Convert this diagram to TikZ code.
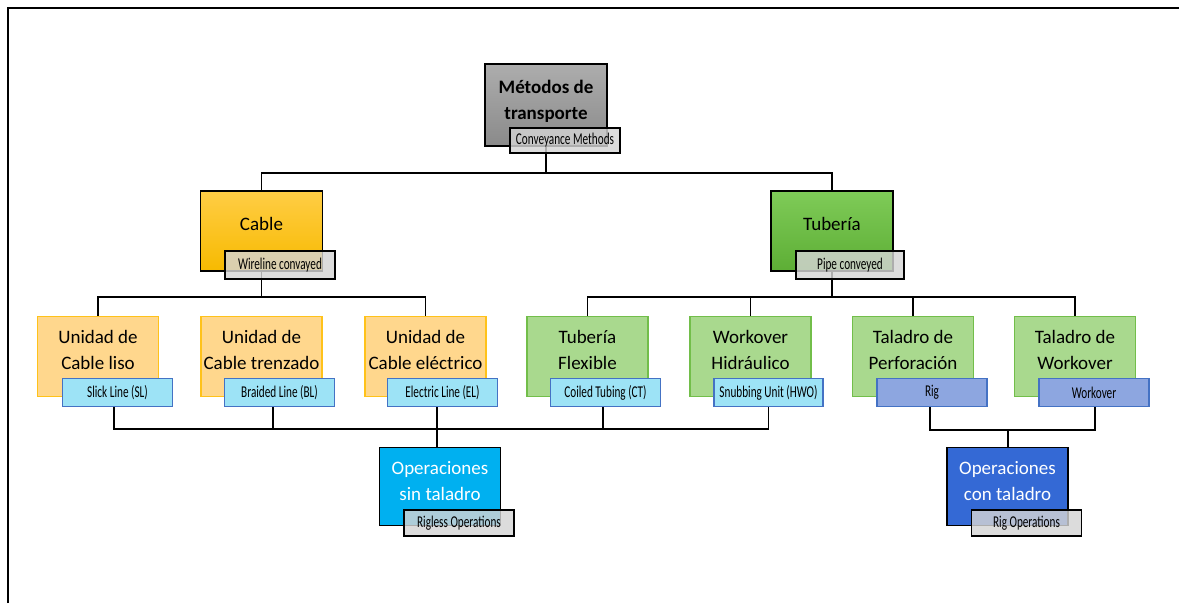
\documentclass[tikz,border=0pt]{standalone}
\usepackage{fontspec}
\setmainfont{Carlito}
\newfontfamily\condfont[FakeStretch=0.68]{Carlito}

\definecolor{grayTop}{HTML}{ADADAD}
\definecolor{grayBot}{HTML}{8A8A8A}
\definecolor{tagGray}{HTML}{D4D4D4}
\definecolor{goldTop}{HTML}{FFCD45}
\definecolor{goldBot}{HTML}{F7BA00}
\definecolor{greenTop}{HTML}{7FCB58}
\definecolor{greenBot}{HTML}{5DAE35}
\definecolor{orangeFill}{HTML}{FFD78D}
\definecolor{orangeLine}{HTML}{FFC21A}
\definecolor{greenFill}{HTML}{A9D98E}
\definecolor{greenLine}{HTML}{72BE4A}
\definecolor{cyanFill}{HTML}{9DE3F6}
\definecolor{blueLine}{HTML}{4472C4}
\definecolor{rigFill}{HTML}{8DA6E0}
\definecolor{skyFill}{HTML}{00B0F0}
\definecolor{royalFill}{HTML}{3469D5}

\tikzset{
  link/.style={draw=black, line width=1.5pt},
  topbox/.style={draw=black, line width=1.3pt, minimum width=122pt, minimum height=82pt,
    top color=grayTop, bottom color=grayBot, inner sep=0pt},
  goldbox/.style={draw=black, line width=1.3pt, minimum width=122pt, minimum height=80pt,
    top color=goldTop, bottom color=goldBot, inner sep=0pt},
  greenbox/.style={draw=black, line width=1.3pt, minimum width=122pt, minimum height=80pt,
    top color=greenTop, bottom color=greenBot, inner sep=0pt},
  unitbox/.style={line width=1.6pt, minimum width=121pt, minimum height=80pt, inner sep=0pt},
  cableunit/.style={unitbox, draw=orangeLine, fill=orangeFill},
  pipeunit/.style={unitbox, draw=greenLine, fill=greenFill},
  opsbox/.style={draw=black, line width=1.4pt, minimum width=121pt, minimum height=78pt, inner sep=0pt},
  title/.style={font=\fontsize{19}{26}\selectfont, align=center, inner sep=0pt},
  tag/.style={line width=1.5pt, minimum height=28pt, inner sep=0pt,
    font=\condfont\fontsize{16.5}{16.5}\selectfont},
  graytag/.style={tag, draw=black, fill=tagGray, fill opacity=0.82, text opacity=1, minimum width=110pt},
  cyantag/.style={tag, draw=blueLine, fill=cyanFill, minimum width=110pt},
  rigtag/.style={tag, draw=blueLine, fill=rigFill, minimum width=110pt},
}

\begin{document}
\begin{tikzpicture}[x=1pt,y=-1pt]
\useasboundingbox (0,0) rectangle (1179,603);

% frame
\coordinate (frameBL) at (8,603);
\coordinate (frameTL) at (8,8);
\coordinate (frameTR) at (1179,8);
\draw[line width=1.5pt] (frameBL) -- (frameTL) -- (frameTR);

% bus points of the connectors
\coordinate (busTop)   at (546,173);
\coordinate (busCable) at (261.5,297);
\coordinate (busPipe)  at (832,297);
\coordinate (busLeft)  at (437,429);
\coordinate (busRight) at (1008,430);

% centres of the upper boxes
\path
  (546,105)   coordinate (pMain)
  (261.5,231) coordinate (pCable)
  (832,231)   coordinate (pPipe);

% connectors -------------------------------------------------
\draw[link] (pMain) -- (busTop);
\draw[link] (pCable) |- (busTop);
\draw[link] (pPipe) |- (busTop);

\draw[link] (pCable) -- (busCable);
\draw[link] (98,316) |- (busCable);
\draw[link] (425.5,316) |- (busCable);
\draw[link] (pPipe) -- (busPipe);
\draw[link] (587.5,316) |- (busPipe);
\draw[link] (750.5,316) |- (busPipe);
\draw[link] (913,316) |- (busPipe);
\draw[link] (1075,316) |- (busPipe);

% top level ---------------------------------------------------
\node[topbox] (main) at (pMain) {};
\node[goldbox] (cable) at (pCable) {};
\node[greenbox] (pipe) at (pPipe) {};

% second level units
\node[cableunit] (u1) at (98,356.5) {};
\node[cableunit] (u2) at (261.5,356.5) {};
\node[cableunit] (u3) at (425.5,356.5) {};
\node[pipeunit]  (u4) at (587.5,356.5) {};
\node[pipeunit]  (u5) at (750.5,356.5) {};
\node[pipeunit]  (u6) at (913,356.5) {};
\node[pipeunit]  (u7) at (1075,356.5) {};

% operations
\node[opsbox, fill=skyFill]   (ops1) at (440,486.5) {};
\node[opsbox, fill=royalFill] (ops2) at (1007.5,486.5) {};

% tags of the units
\node[cyantag] (t1) at (117.5,392.5) {Slick Line (SL)};
\node[cyantag] (t2) at (279.5,392.5) {Braided Line (BL)};
\node[cyantag] (t3) at (442.5,392.5) {Electric Line (EL)};
\node[cyantag] (t4) at (605.5,392.5) {Coiled Tubing (CT)};
\node[cyantag, minimum width=109pt] (t5) at (768.5,392.5) {Snubbing Unit (HWO)};
\node[rigtag] (t6) at (932,392.5) {Rig};
\node[rigtag] (t7) at (1094,392.5) {Workover};

% lower connectors
\draw[link] ([xshift=-3.5pt]t1.south) |- (busLeft);
\draw[link] ([xshift=-6.5pt]t2.south) |- (busLeft);
\draw[link] ([xshift=-5.5pt]t3.south) -- (busLeft);
\draw[link] ([xshift=-2.5pt]t4.south) |- (busLeft);
\draw[link] (t5.south) |- (busLeft);
\draw[link] (busLeft) -- (busLeft |- ops1.north);
\draw[link] ([xshift=-2pt]t6.south) |- (busRight);
\draw[link] ([xshift=1pt]t7.south) |- (busRight);
\draw[link] (busRight) -- (busRight |- ops2.north);

% titles ------------------------------------------------------
\node[title, font=\bfseries\fontsize{19}{26}\selectfont] (mainTxt) at (546,101) {Métodos de\\transporte};
\node[title] (cableTxt) at (261.5,224) {Cable};
\node[title] (pipeTxt)  at (832,224) {Tubería};
\node[title] (u1Txt) at (98,350)   {Unidad de\\Cable liso};
\node[title] (u2Txt) at (261.5,350) {Unidad de\\Cable trenzado};
\node[title] (u3Txt) at (425.5,350) {Unidad de\\Cable eléctrico};
\node[title] (u4Txt) at (587.5,350) {Tubería\\Flexible};
\node[title] (u5Txt) at (750.5,350) {Workover\\Hidráulico};
\node[title] (u6Txt) at (913,350)   {Taladro de\\Perforación};
\node[title] (u7Txt) at (1075,350)  {Taladro de\\Workover};
\node[title, text=white] (ops1Txt) at (440,481)    {Operaciones\\sin taladro};
\node[title, text=white] (ops2Txt) at (1007.5,481) {Operaciones\\con taladro};

% gray tags ---------------------------------------------------
\node[graytag, minimum height=25pt] (mainTag)  at (565,140.5) {Conveyance Methods};
\node[graytag] (cableTag) at (280,265) {Wireline convayed};
\node[graytag, minimum width=108pt] (pipeTag)  at (850,265) {Pipe conveyed};
\node[graytag, minimum height=26pt] (ops1Tag) at (459,523) {Rigless Operations};
\node[graytag, minimum height=26pt] (ops2Tag) at (1026.5,523) {Rig Operations};
\end{tikzpicture}
\end{document}
